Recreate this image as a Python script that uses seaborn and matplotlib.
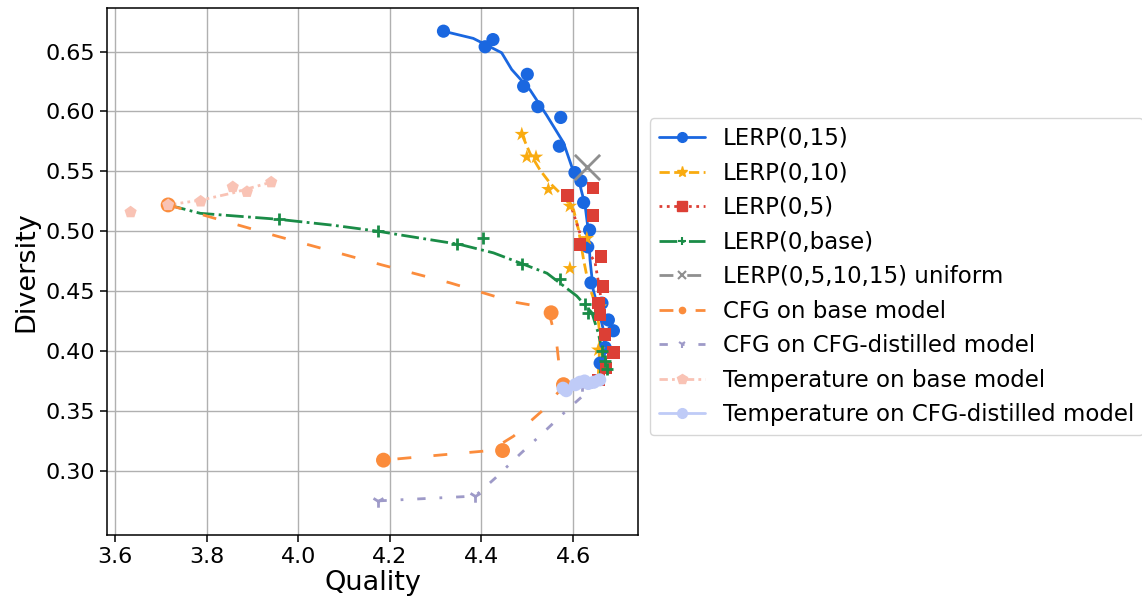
import numpy as np
import pandas as pd
import matplotlib
matplotlib.use("Agg")
import matplotlib.pyplot as plt
from matplotlib.lines import Line2D
import seaborn as sns

# 数据：散点 (quality, diversity)
lerp15_q = [4.317, 4.408, 4.425, 4.500, 4.492, 4.523, 4.573, 4.570, 4.604, 4.617, 4.623,
            4.636, 4.632, 4.639, 4.663, 4.677, 4.688, 4.670, 4.659]
lerp15_d = [0.667, 0.654, 0.660, 0.631, 0.621, 0.604, 0.595, 0.571, 0.549, 0.542, 0.524,
            0.501, 0.487, 0.457, 0.440, 0.426, 0.417, 0.403, 0.390]
# 平滑曲线
lerp15_line_q = [4.317, 4.382, 4.408, 4.444, 4.466, 4.506, 4.542, 4.579, 4.597, 4.612,
                 4.626, 4.633, 4.637, 4.644, 4.655, 4.666, 4.670, 4.666, 4.659]
lerp15_line_d = [0.667, 0.661, 0.656, 0.649, 0.635, 0.618, 0.597, 0.574, 0.554, 0.543,
                 0.522, 0.501, 0.476, 0.451, 0.435, 0.418, 0.401, 0.390, 0.378]

lerp10_q = [4.488, 4.499, 4.519, 4.546, 4.593, 4.630, 4.593, 4.659, 4.655]
lerp10_d = [0.581, 0.562, 0.562, 0.535, 0.521, 0.494, 0.469, 0.437, 0.401]
lerp10_line_q = [4.488, 4.506, 4.528, 4.550, 4.579, 4.601, 4.612, 4.623, 4.633, 4.652,
                 4.659, 4.657, 4.655]
lerp10_line_d = [0.581, 0.565, 0.551, 0.540, 0.529, 0.518, 0.501, 0.476, 0.457, 0.435,
                 0.412, 0.396, 0.379]

lerp5_q = [4.643, 4.588, 4.643, 4.615, 4.661, 4.665, 4.655, 4.659, 4.670, 4.688, 4.672, 4.655]
lerp5_d = [0.536, 0.530, 0.513, 0.489, 0.479, 0.454, 0.440, 0.430, 0.414, 0.399, 0.386, 0.376]
lerp5_line_q = [4.593, 4.622, 4.648, 4.659, 4.663, 4.674, 4.670, 4.659]
lerp5_line_d = [0.524, 0.490, 0.474, 0.449, 0.432, 0.410, 0.386, 0.371]

lerpbase_q = [3.957, 4.175, 4.347, 4.404, 4.488, 4.572, 4.626, 4.633, 4.663, 4.670, 4.674]
lerpbase_d = [0.510, 0.500, 0.489, 0.494, 0.473, 0.460, 0.439, 0.432, 0.400, 0.392, 0.385]
lerpbase_line_q = [3.716, 3.786, 3.957, 4.077, 4.175, 4.222, 4.353, 4.426, 4.488, 4.543,
                   4.608, 4.641, 4.655, 4.663, 4.659]
lerpbase_line_d = [0.522, 0.515, 0.510, 0.505, 0.500, 0.497, 0.489, 0.482, 0.473, 0.465,
                   0.446, 0.432, 0.415, 0.401, 0.379]

uniform_q = [4.630]
uniform_d = [0.554]

cfg_base_q = [3.716, 4.552, 4.579, 4.446, 4.186]
cfg_base_d = [0.522, 0.432, 0.372, 0.317, 0.309]
cfg_base_line_q = [3.716, 3.807, 3.953, 4.106, 4.182, 4.331, 4.470, 4.545, 4.564, 4.575,
                   4.535, 4.470, 4.419, 4.331, 4.186]
cfg_base_line_d = [0.522, 0.512, 0.496, 0.480, 0.472, 0.457, 0.441, 0.436, 0.407, 0.369,
                   0.351, 0.329, 0.317, 0.314, 0.309]

cfg_dist_q = [4.175, 4.386, 4.620, 4.640, 4.655]
cfg_dist_d = [0.275, 0.279, 0.372, 0.375, 0.377]
cfg_dist_line_q = [4.175, 4.386, 4.430, 4.484, 4.535, 4.590, 4.637, 4.655]
cfg_dist_line_d = [0.275, 0.279, 0.294, 0.314, 0.332, 0.352, 0.368, 0.376]

temp_base_q = [3.634, 3.716, 3.787, 3.857, 3.888, 3.941]
temp_base_d = [0.516, 0.522, 0.525, 0.537, 0.533, 0.541]
temp_base_line_q = [3.716, 3.787, 3.857, 3.941]
temp_base_line_d = [0.522, 0.526, 0.532, 0.541]

temp_dist_q = [4.578, 4.585, 4.605, 4.615, 4.625, 4.633, 4.645, 4.658]
temp_dist_d = [0.369, 0.367, 0.372, 0.374, 0.375, 0.373, 0.374, 0.376]

labels = ["LERP(0,15)", "LERP(0,10)", "LERP(0,5)", "LERP(0,base)", "LERP(0,5,10,15) uniform",
          "CFG on base model", "CFG on CFG-distilled model", "Temperature on base model",
          "Temperature on CFG-distilled model"]

# 样式
c_blue = "#1a67e0"
c_yellow = "#f9ab10"
c_red = "#dc3f35"
c_green = "#1a8c47"
c_gray = "#8f8f8f"
c_orange = "#fb8c3c"
c_purple = "#9e9ac8"
c_pink = "#f9c3b5"
c_lblue = "#bfcbf7"

ls_lerp10 = (0, (3.7, 1.6))
ls_cfgbase = (0, (5, 8))
ls_cfgdist = (0, (3, 5, 1, 5))
ls_tempbase = (0, (3, 1.5, 1, 1.5, 1, 1.5))

sns.set_style("ticks", {"axes.grid": True, "grid.color": "#b0b0b0", "axes.edgecolor": "black",
                        "xtick.color": "black", "ytick.color": "black",
                        "text.color": "black", "axes.labelcolor": "black"})
plt.rcParams["font.family"] = ["DejaVu Sans"]
plt.rcParams["grid.linewidth"] = 1.0

fig = plt.figure(figsize=(11.42, 5.97), dpi=100)
ax = fig.add_axes([0.0935, 0.1034, 0.4653, 0.8839])


def line(q, d, color, ls, lw=2.0):
    sns.lineplot(x=q, y=d, sort=False, estimator=None, ax=ax, color=color,
                 linestyle=ls, linewidth=lw, legend=False)


def pts(q, d, color, marker, s, lw=0):
    if marker in ("+", "1", "x"):
        sns.scatterplot(x=q, y=d, ax=ax, color=color, marker=marker, s=s,
                        linewidth=lw, legend=False, zorder=3)
    else:
        sns.scatterplot(x=q, y=d, ax=ax, color=color, marker=marker, s=s,
                        edgecolor="none", linewidth=0, legend=False, zorder=3)


line(lerp15_line_q, lerp15_line_d, c_blue, "-")
pts(lerp15_q, lerp15_d, c_blue, "o", 90)
line(lerp10_line_q, lerp10_line_d, c_yellow, ls_lerp10)
pts(lerp10_q, lerp10_d, c_yellow, "*", 120)
line(lerp5_line_q, lerp5_line_d, c_red, ":")
pts(lerp5_q, lerp5_d, c_red, "s", 80)
line(lerpbase_line_q, lerpbase_line_d, c_green, "-.")
pts(lerpbase_q, lerpbase_d, c_green, "+", 70, lw=2)
pts(uniform_q, uniform_d, c_gray, "x", 330, lw=2)
line(cfg_base_line_q, cfg_base_line_d, c_orange, ls_cfgbase)
pts(cfg_base_q, cfg_base_d, c_orange, "o", 115)
line(cfg_dist_line_q, cfg_dist_line_d, c_purple, ls_cfgdist)
pts(cfg_dist_q, cfg_dist_d, c_purple, "1", 80, lw=2)
line(temp_base_line_q, temp_base_line_d, c_pink, ls_tempbase)
pts(temp_base_q, temp_base_d, c_pink, "p", 85)
line(temp_dist_q, temp_dist_d, c_lblue, "-")
pts(temp_dist_q, temp_dist_d, c_lblue, "o", 90)

ax.set_xlim(3.582, 4.742)
ax.set_ylim(0.2463, 0.6867)
ax.set_xticks([3.6, 3.8, 4.0, 4.2, 4.4, 4.6])
ax.set_yticks([0.30, 0.35, 0.40, 0.45, 0.50, 0.55, 0.60, 0.65])
ax.tick_params(labelsize=16, length=5, width=1.1)
ax.set_xlabel("Quality", fontsize=19.5, labelpad=2)
ax.set_ylabel("Diversity", fontsize=19.5)
for sp in ax.spines.values():
    sp.set_visible(True)
    sp.set_linewidth(1.1)

handles = [
    Line2D([], [], color=c_blue, ls="-", marker="o", markersize=7, lw=2),
    Line2D([], [], color=c_yellow, ls=ls_lerp10, marker="*", markersize=8, lw=2),
    Line2D([], [], color=c_red, ls=":", marker="s", markersize=7, lw=2),
    Line2D([], [], color=c_green, ls="-.", marker="+", markersize=6, mew=1.5, lw=2),
    Line2D([], [], color=c_gray, ls=(0, (5, 5)), marker="x", markersize=6, mew=1.5, lw=2),
    Line2D([], [], color=c_orange, ls=ls_cfgbase, marker="o", markersize=4.5, lw=2),
    Line2D([], [], color=c_purple, ls=ls_cfgdist, marker="1", markersize=6, mew=1.5, lw=2),
    Line2D([], [], color=c_pink, ls=ls_tempbase, marker="p", markersize=7, lw=2),
    Line2D([], [], color=c_lblue, ls="-", marker="o", markersize=7, lw=2),
]
ax.legend(handles, labels, loc="center left", bbox_to_anchor=(1.0, 0.49), fontsize=16.5,
          frameon=True, fancybox=True, edgecolor="#cccccc")

plt.savefig("out.png", dpi=100)
plt.close()
